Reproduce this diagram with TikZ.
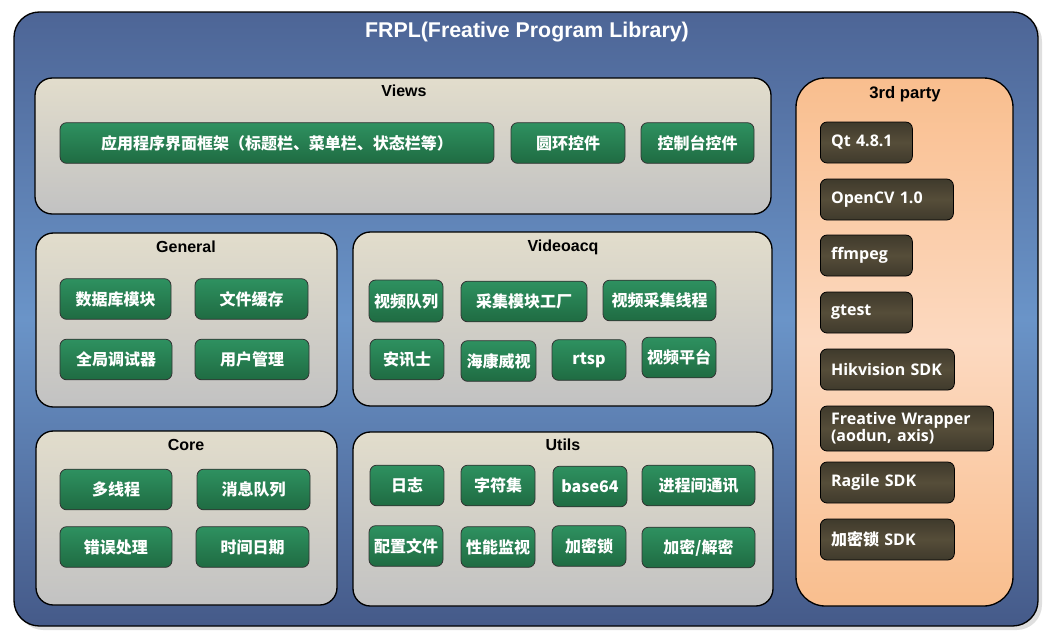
\documentclass[tikz,border=0pt]{standalone}
\usepackage{fontspec}
\setmainfont{Liberation Sans}
\newfontfamily\cjk{Noto Sans CJK SC}
\newfontfamily\sdkfont{Open Sans}
\usetikzlibrary{shadows}
\definecolor{frameTop}{HTML}{4D6596}
\definecolor{frameMid}{HTML}{6A94C8}
\definecolor{frameBot}{HTML}{455A89}
\definecolor{groupTop}{HTML}{E2DDCC}
\definecolor{groupBot}{HTML}{C2C2C2}
\definecolor{peachTop}{HTML}{F9BE8E}
\definecolor{peachMid}{HTML}{FCD9C0}
\definecolor{modTop}{HTML}{2E9160}
\definecolor{modBot}{HTML}{1F6B42}
\definecolor{sdkTop}{HTML}{3F3A2C}
\definecolor{sdkMid}{HTML}{564D39}
\pgfdeclareverticalshading{frameshade}{100bp}{color(0bp)=(frameBot); color(25bp)=(frameBot); color(50bp)=(frameMid); color(75bp)=(frameTop); color(100bp)=(frameTop)}
\pgfdeclareverticalshading{peachshade}{100bp}{color(0bp)=(peachTop); color(25bp)=(peachTop); color(50bp)=(peachMid); color(75bp)=(peachTop); color(100bp)=(peachTop)}
\pgfdeclareverticalshading{sdkshade}{100bp}{color(0bp)=(sdkTop); color(25bp)=(sdkTop); color(50bp)=(sdkMid); color(75bp)=(sdkTop); color(100bp)=(sdkTop)}
\tikzset{
  frame/.style={draw=black,line width=1pt,rounded corners=19pt,shading=frameshade,drop shadow={shadow xshift=3pt,shadow yshift=-3pt,opacity=0.25}},
  group/.style={draw=black,line width=1pt,rounded corners=13pt,top color=groupTop,bottom color=groupBot,inner sep=0pt},
  third/.style={draw=black,line width=1pt,rounded corners=22pt,shading=peachshade,inner sep=0pt},
  grouptitle/.style={font=\fontsize{12}{14}\selectfont\bfseries},
  module/.style={draw=black!80,line width=0.6pt,rounded corners=5pt,top color=modTop,bottom color=modBot,text=white,font=\cjk\bfseries\fontsize{12}{14}\selectfont,minimum height=30.5pt,inner sep=0pt},
  sdk/.style={draw=black,line width=0.6pt,rounded corners=5pt,shading=sdkshade,text=white,font=\sdkfont\bfseries\fontsize{12}{11.5}\selectfont,minimum height=30.75pt,anchor=west,align=left,inner xsep=8pt,inner ysep=0pt}
}
\begin{document}
\begin{tikzpicture}[x=0.75pt,y=-0.75pt]
  \useasboundingbox (0,0) rectangle (1051,637);
  % outer frame
  \node[frame,minimum width=768pt,minimum height=460.5pt] (frpl) at (526,319) {};
  \node[text=white,font=\fontsize{16}{19}\selectfont\bfseries] (frpl title) at (527,32) {FRPL(Freative Program Library)};
  % Views
  \node[group,minimum width=552pt,minimum height=102pt] (views) at (403,146) {};
  \node[grouptitle] (views title) at (404,91) {Views};
  \node[module,minimum width=325.5pt] (appframe) at (277,143) {应用程序界面框架（标题栏、菜单栏、状态栏等）};
  \node[module,minimum width=85.5pt] (ring) at (568,143) {圆环控件};
  \node[module,minimum width=84.75pt] (console) at (697.5,143) {控制台控件};
  % General
  \node[group,minimum width=225.75pt,minimum height=130.5pt] (general) at (186.5,320) {};
  \node[grouptitle] (general title) at (186,247) {General};
  \node[module,minimum width=83.25pt] (db) at (115.5,299) {数据库模块};
  \node[module,minimum width=84.75pt] (cache) at (251.5,299) {文件缓存};
  \node[module,minimum width=84pt] (debugger) at (116,359.5) {全局调试器};
  \node[module,minimum width=85.5pt] (users) at (252,359.5) {用户管理};
  % Videoacq
  \node[group,minimum width=314.25pt,minimum height=130.5pt] (videoacq) at (562.5,319) {};
  \node[grouptitle] (videoacq title) at (563,247) {Videoacq};
  \node[module,minimum width=55.5pt,minimum height=31.5pt] (vqueue) at (406,301) {视频队列};
  \node[module,minimum width=94.5pt] (factory) at (524,301.5) {采集模块工厂};
  \node[module,minimum width=84.75pt] (vthread) at (659.5,300.5) {视频采集线程};
  \node[module,minimum width=55.5pt] (axis) at (407,359.5) {安讯士};
  \node[module,minimum width=56.25pt] (hik) at (498.5,361) {海康威视};
  \node[module,minimum width=55.5pt] (rtsp) at (589,360) {rtsp};
  \node[module,minimum width=55.5pt] (vplatform) at (679,357.5) {视频平台};
  % Core
  \node[group,minimum width=225.75pt,minimum height=130.5pt] (core) at (186.5,518) {};
  \node[grouptitle] (core title) at (186,445) {Core};
  \node[module,minimum width=84pt] (threads) at (116,489.5) {多线程};
  \node[module,minimum width=84.75pt] (msgqueue) at (253.5,489.5) {消息队列};
  \node[module,minimum width=84pt] (errors) at (116,547) {错误处理};
  \node[module,minimum width=84.75pt] (datetime) at (252.5,547) {时间日期};
  % Utils
  \node[group,minimum width=315pt,minimum height=130.5pt] (utils) at (563,519) {};
  \node[grouptitle] (utils title) at (563,445) {Utils};
  \node[module,minimum width=55.5pt] (log) at (407,485.5) {日志};
  \node[module,minimum width=55.5pt] (charset) at (498,485.5) {字符集};
  \node[module,minimum width=55.5pt] (base64) at (590,486.5) {base64};
  \node[module,minimum width=84.75pt] (ipc) at (698.5,485.5) {进程间通讯};
  \node[module,minimum width=55.5pt] (config) at (406,546) {配置文件};
  \node[module,minimum width=55.5pt] (perf) at (498,547) {性能监视};
  \node[module,minimum width=55.5pt] (dongle) at (589,546) {加密锁};
  \node[module,minimum width=84.75pt] (crypt) at (698.5,547.5) {加密/解密};
  % 3rd party
  \node[third,minimum width=162.75pt,minimum height=396pt] (third) at (904.5,342) {};
  \node[font=\fontsize{12.5}{14}\selectfont\bfseries] (third title) at (905,94) {3rd party};
  \node[sdk,text width=53pt] (qt) at (820,142.5) {Qt 4.8.1};
  \node[sdk,text width=83.75pt] (opencv) at (820,199.5) {OpenCV 1.0};
  \node[sdk,text width=53pt] (ffmpeg) at (820,255.5) {ffmpeg};
  \node[sdk,text width=53pt] (gtest) at (820,312.5) {gtest};
  \node[sdk,text width=84.5pt] (hiksdk) at (820,369.5) {Hikvision SDK};
  \node[sdk,text width=113.75pt,minimum height=33.75pt] (wrapper) at (820,428.5) {Freative Wrapper\\(aodun, axis)};
  \node[sdk,text width=84.5pt] (ragile) at (820,482.5) {Ragile SDK};
  \node[sdk,text width=84.5pt] (donglesdk) at (820,539.5) {{\cjk\bfseries 加密锁} SDK};
\end{tikzpicture}
\end{document}
